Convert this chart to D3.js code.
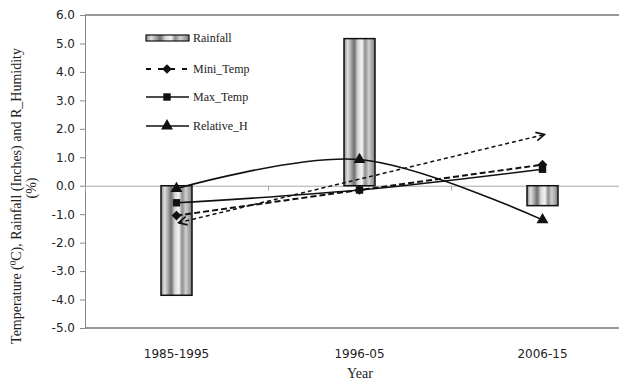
<!DOCTYPE html>
<html>
<head>
<meta charset="utf-8">
<script src="https://cdn.jsdelivr.net/npm/d3@7"></script>
<style>
  body { margin: 0; background: #fff; }
  svg { display: block; }
  .tick text { font-family: "DejaVu Sans", Verdana, sans-serif; font-size: 12px; fill: #222; }
  .serif { font-family: "Liberation Serif", "Times New Roman", serif; fill: #222; }
</style>
</head>
<body>
<svg id="chart" width="619" height="381"></svg>
<script>
var categories = ["1985-1995", "1996-05", "2006-15"],
    rainfall = [-3.85, 5.17, -0.7],
    miniTemp = [-1.05, -0.15, 0.74],
    maxTemp = [-0.6, -0.15, 0.58],
    relativeH = [-0.1, 0.92, -1.2],
    arrowEnds = [-1.3, 1.8],          // dashed double arrow from first to last category
    yTicks = [-5, -4, -3, -2, -1, 0, 1, 2, 3, 4, 5, 6],
    legendNames = ["Rainfall", "Mini_Temp", "Max_Temp", "Relative_H"];

var margin = {top: 15, right: -15, bottom: 53, left: 85},
    width = 619 - margin.left - margin.right,
    height = 381 - margin.top - margin.bottom;

var svg = d3.select("#chart");

// stripe gradient for the rainfall bars
var defs = svg.append("defs");
var stripes = [["0%", "#8a8a8a"], ["12%", "#e0e0e0"], ["25%", "#9a9a9a"], ["33%", "#6e6e6e"],
               ["45%", "#d8d8d8"], ["58%", "#f4f4f4"], ["68%", "#8c8c8c"], ["80%", "#d0d0d0"],
               ["90%", "#a8a8a8"], ["100%", "#7a7a7a"]];
function addGrad(id) {
    var g = defs.append("linearGradient").attr("id", id)
        .attr("x1", "0%").attr("x2", "100%").attr("y1", "0%").attr("y2", "0%");
    stripes.forEach(function (s) { g.append("stop").attr("offset", s[0]).attr("stop-color", s[1]); });
}
addGrad("barGrad");
addGrad("legGrad");

var g = svg.append("g").attr("transform", "translate(" + margin.left + "," + margin.top + ")");

var x = d3.scaleBand().domain(categories).range([0, width]).padding(0);
var y = d3.scaleLinear().domain([-5, 6]).range([height, 0]);
var cx = function (i) { return x(categories[i]) + x.bandwidth() / 2; };

// frame top and bottom
g.append("line").attr("x1", 0).attr("x2", width).attr("y1", 0).attr("y2", 0)
    .attr("stroke", "#333").attr("stroke-width", 1);
g.append("line").attr("x1", 0).attr("x2", width).attr("y1", height).attr("y2", height)
    .attr("stroke", "#333").attr("stroke-width", 1);

// y axis
var yAxis = g.append("g")
    .call(d3.axisLeft(y).tickValues(yTicks).tickSize(5).tickPadding(5)
        .tickFormat(function (d) { return d.toFixed(1); }));
yAxis.select(".domain").attr("stroke", "#888");
yAxis.selectAll(".tick line").attr("stroke", "#888");

// zero axis with ticks at category boundaries
var zeroAxis = g.append("g").attr("transform", "translate(0," + y(0) + ")")
    .call(d3.axisBottom(x).tickSize(5).tickFormat(""));
zeroAxis.select(".domain").attr("stroke", "#aaa");
zeroAxis.selectAll(".tick").attr("transform", function (d) {
    return "translate(" + (x(d) + 0.5) + ",0)";
});
zeroAxis.selectAll(".tick line").attr("stroke", "#aaa");
zeroAxis.selectAll(".tick").filter(function (d, i) { return i === 0; }).remove();

// category labels
g.selectAll(".catLabel").data(categories).enter().append("text")
    .attr("x", function (d) { return x(d) + x.bandwidth() / 2; })
    .attr("y", height + 30)
    .attr("text-anchor", "middle")
    .style("font-family", "'DejaVu Sans', Verdana, sans-serif")
    .style("font-size", "12px").style("fill", "#222")
    .text(function (d) { return d; });

// bars
var barW = 31;
g.selectAll(".bar").data(rainfall).enter().append("rect")
    .attr("x", function (d, i) { return cx(i) - barW / 2; })
    .attr("y", function (d) { return y(Math.max(0, d)); })
    .attr("width", barW)
    .attr("height", function (d) { return Math.abs(y(d) - y(0)); })
    .attr("fill", "url(#barGrad)")
    .attr("stroke", "#111").attr("stroke-width", 1.5);

// dashed double arrow
defs.append("marker").attr("id", "arrowHead")
    .attr("viewBox", "0 0 10 10").attr("refX", 9).attr("refY", 5)
    .attr("markerWidth", 7).attr("markerHeight", 7).attr("orient", "auto-start-reverse")
    .append("path").attr("d", "M1,1 L9,5 L1,9")
    .attr("fill", "none").attr("stroke", "#111").attr("stroke-width", 1.6);
g.append("line")
    .attr("x1", cx(0) + 2).attr("y1", y(arrowEnds[0]))
    .attr("x2", cx(2) + 2).attr("y2", y(arrowEnds[1]))
    .attr("stroke", "#111").attr("stroke-width", 1.5)
    .attr("stroke-dasharray", "4,3")
    .attr("marker-start", "url(#arrowHead)")
    .attr("marker-end", "url(#arrowHead)");

var line = d3.line()
    .x(function (d, i) { return cx(i); })
    .y(function (d) { return y(d); })
    .curve(d3.curveCardinal);

var series = [
    {name: "Mini_Temp", values: miniTemp, dash: "6,3", symbol: d3.symbolDiamond2 || d3.symbolDiamond, size: 60},
    {name: "Max_Temp", values: maxTemp, dash: null, symbol: d3.symbolSquare, size: 55},
    {name: "Relative_H", values: relativeH, dash: null, symbol: d3.symbolTriangle, size: 62}
];

series.forEach(function (s) {
    g.append("path").datum(s.values)
        .attr("d", line)
        .attr("fill", "none").attr("stroke", "#111")
        .attr("stroke-width", s.dash ? 2 : 1.6)
        .attr("stroke-dasharray", s.dash);
    g.selectAll(null).data(s.values).enter().append("path")
        .attr("transform", function (d, i) { return "translate(" + cx(i) + "," + y(d) + ")"; })
        .attr("d", d3.symbol().type(s.symbol).size(s.size))
        .attr("fill", "#111");
});

// legend
var legend = svg.append("g").attr("transform", "translate(146,38)");
var rowY = [0, 31, 59, 88];
legend.append("rect").attr("x", 0).attr("y", rowY[0] - 3).attr("width", 43).attr("height", 6)
    .attr("fill", "url(#legGrad)").attr("stroke", "#111").attr("stroke-width", 1.2);
series.forEach(function (s, i) {
    var ry = rowY[i + 1];
    legend.append("line").attr("x1", 0).attr("x2", 43).attr("y1", ry).attr("y2", ry)
        .attr("stroke", "#111").attr("stroke-width", s.dash ? 2 : 1.6)
        .attr("stroke-dasharray", s.dash ? "5,7" : null);
    legend.append("path").attr("transform", "translate(21," + ry + ")")
        .attr("d", d3.symbol().type(s.symbol).size(s.size)).attr("fill", "#111");
});
legend.selectAll(".legText").data(legendNames).enter().append("text")
    .attr("class", "serif")
    .attr("x", 47).attr("y", function (d, i) { return rowY[i] + 4; })
    .style("font-size", "12px")
    .text(function (d) { return d; });

// axis titles
var yTitle = svg.append("text")
    .attr("class", "serif")
    .attr("transform", "translate(21,196) rotate(-90)")
    .attr("text-anchor", "middle")
    .style("font-size", "14px");
yTitle.append("tspan").text("Temperature (");
yTitle.append("tspan").attr("dy", -5).style("font-size", "9px").text("0");
yTitle.append("tspan").attr("dy", 5).text("C), Rainfall (Inches) and R_Humidity");
svg.append("text")
    .attr("class", "serif")
    .attr("transform", "translate(36,188) rotate(-90)")
    .attr("text-anchor", "middle")
    .style("font-size", "14px")
    .text("(%)");

svg.append("text")
    .attr("class", "serif")
    .attr("x", 360).attr("y", 378)
    .attr("text-anchor", "middle")
    .style("font-size", "14px")
    .text("Year");
</script>
</body>
</html>
